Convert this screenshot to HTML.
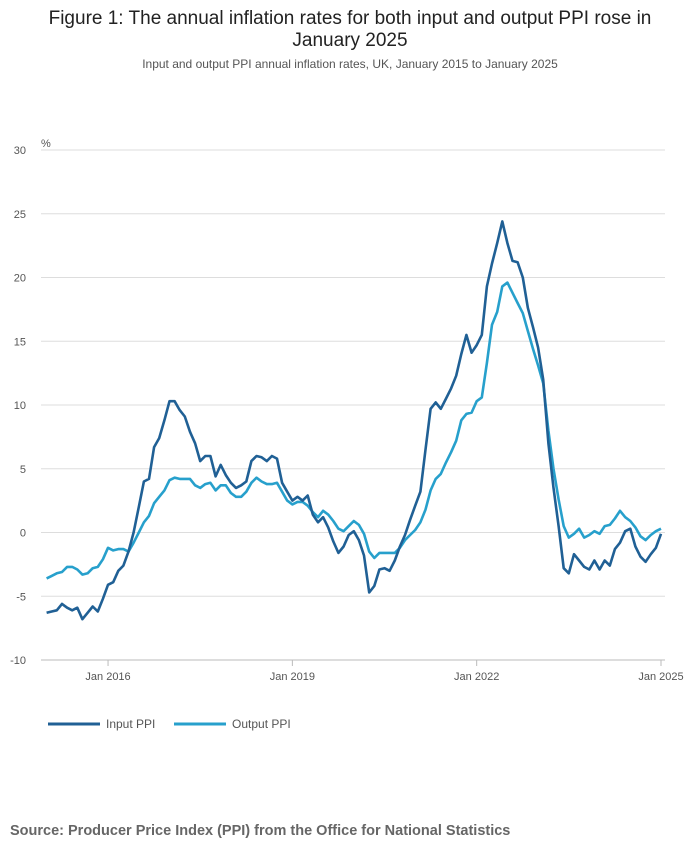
<!DOCTYPE html>
<html><head><meta charset="utf-8"><style>
body{margin:0;width:700px;height:857px;background:#fff;font-family:"Liberation Sans",sans-serif;overflow:hidden}
</style></head><body>
<svg id="chart" width="700" height="857" xmlns="http://www.w3.org/2000/svg">
<text x="350" y="24" text-anchor="middle" font-size="19" fill="#222" font-family="Liberation Sans, sans-serif">Figure 1: The annual inflation rates for both input and output PPI rose in</text>
<text x="350" y="46" text-anchor="middle" font-size="19" fill="#222" font-family="Liberation Sans, sans-serif">January 2025</text>
<text x="350" y="68" text-anchor="middle" font-size="12" fill="#555" font-family="Liberation Sans, sans-serif">Input and output PPI annual inflation rates, UK, January 2015 to January 2025</text>
<text x="41" y="147" font-size="11" fill="#555">%</text>
<g id="grid"></g><g id="xaxis"></g><g id="series"></g>
<g>
<line x1="48" y1="724" x2="100" y2="724" stroke="#206095" stroke-width="3"/>
<text x="106" y="728" font-size="12" fill="#555">Input PPI</text>
<line x1="174" y1="724" x2="226" y2="724" stroke="#27a0cc" stroke-width="3"/>
<text x="232" y="728" font-size="12" fill="#555">Output PPI</text>
</g>
<text x="10" y="835" font-size="14.5" font-weight="bold" fill="#666">Source: Producer Price Index (PPI) from the Office for National Statistics</text>
</svg>
<script>
const yTicks=[30,25,20,15,10,5,0,-5,-10];
const xTickLabels=["Jan 2016","Jan 2019","Jan 2022","Jan 2025"];
const xTickIdx=[12,48,84,120];
const inputPPI=[-6.3,-6.2,-6.1,-5.6,-5.9,-6.1,-5.9,-6.8,-6.3,-5.8,-6.2,-5.2,
-4.1,-3.9,-3.0,-2.6,-1.5,0,2,4,4.2,6.7,7.4,8.8,
10.3,10.3,9.6,9.1,7.9,7.0,5.6,6.0,6.0,4.4,5.3,4.5,
3.9,3.5,3.7,4.0,5.6,6.0,5.9,5.6,6.0,5.8,3.9,3.2,
2.5,2.8,2.5,2.9,1.4,0.8,1.2,0.4,-0.7,-1.6,-1.1,-0.2,
0.1,-0.6,-1.8,-4.7,-4.2,-2.9,-2.8,-3.0,-2.2,-1.1,-0.2,1.0,
2.1,3.2,6.5,9.7,10.2,9.7,10.5,11.3,12.3,14.0,15.5,14.1,
14.7,15.5,19.3,21.1,22.7,24.4,22.7,21.3,21.2,20.0,17.6,16.1,
14.5,12.0,7.0,3.5,0.5,-2.8,-3.2,-1.7,-2.2,-2.7,-2.9,-2.2,
-2.9,-2.2,-2.6,-1.3,-0.8,0.1,0.3,-1.1,-1.9,-2.3,-1.7,-1.2,-0.1];
const outputPPI=[-3.6,-3.4,-3.2,-3.1,-2.7,-2.7,-2.9,-3.3,-3.2,-2.8,-2.7,-2.1,
-1.2,-1.4,-1.3,-1.3,-1.5,-0.8,0,0.8,1.3,2.3,2.8,3.3,
4.1,4.3,4.2,4.2,4.2,3.7,3.5,3.8,3.9,3.3,3.7,3.7,
3.1,2.8,2.8,3.2,3.9,4.3,4.0,3.8,3.8,3.9,3.2,2.5,
2.2,2.4,2.4,2.1,1.6,1.2,1.7,1.4,0.9,0.3,0.1,0.5,
0.9,0.6,-0.1,-1.5,-2.0,-1.6,-1.6,-1.6,-1.6,-1.2,-0.6,-0.2,
0.2,0.8,1.8,3.3,4.2,4.6,5.5,6.3,7.2,8.8,9.3,9.4,
10.3,10.6,13.3,16.3,17.3,19.3,19.6,18.8,18.0,17.2,15.8,14.4,
13.1,11.7,8.0,5.0,2.6,0.5,-0.4,-0.1,0.3,-0.4,-0.2,0.1,
-0.1,0.5,0.6,1.1,1.7,1.2,0.9,0.4,-0.3,-0.6,-0.2,0.1,0.3];
const NS="http://www.w3.org/2000/svg";
const X0=46.6,X1=661,Y0=150,Y1=660,L=41,R=665;
const x=i=>X0+(X1-X0)*i/120;
const y=v=>Y1-(v+10)*(Y1-Y0)/40;
function mk(tag,attrs,parent){const e=document.createElementNS(NS,tag);for(const k in attrs)e.setAttribute(k,attrs[k]);parent.appendChild(e);return e;}
const grid=document.getElementById('grid');
yTicks.forEach(t=>{
 const ln=mk('line',{x1:L,x2:R,y1:y(t),y2:y(t),stroke:t===-10?'#bbb':'#ddd','stroke-width':1},grid);
 
 
 const tx=mk('text',{x:26,y:y(t)+4,'font-size':11,fill:'#555','text-anchor':'end'},grid);
 tx.textContent=t;
 
 
});
const xa=document.getElementById('xaxis');
xTickIdx.forEach((i,k)=>{
 const tk=mk('line',{x1:x(i),x2:x(i),y1:660,y2:666,stroke:'#bbb'},xa);
 
 
 const tx=mk('text',{x:x(i),y:680,'font-size':11,fill:'#555','text-anchor':'middle'},xa);
 tx.textContent=xTickLabels[k];
 
 
});
const sg=document.getElementById('series');
[[outputPPI,'#27a0cc','output-ppi-line'],[inputPPI,'#206095','input-ppi-line']].forEach(([d,c,n])=>{
 const p=mk('path',{d:d.map((v,i)=>(i?'L':'M')+x(i).toFixed(1)+','+y(v).toFixed(1)).join(''),fill:'none',stroke:c,'stroke-width':2.6,'stroke-linejoin':'round'},sg);
 
 
});
</script>
</body></html>
